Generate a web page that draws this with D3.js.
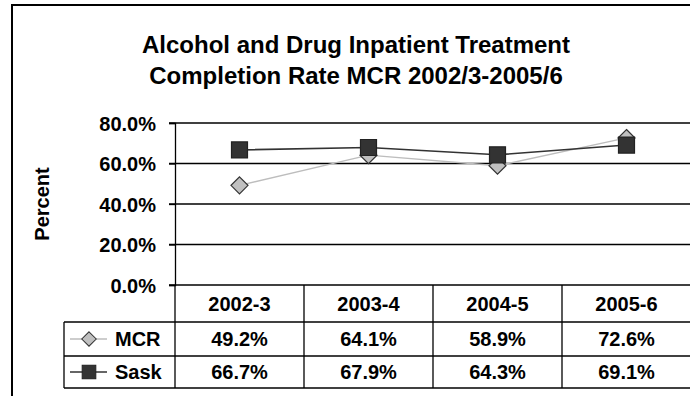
<!DOCTYPE html>
<html>
<head>
<meta charset="utf-8">
<script src="https://cdn.jsdelivr.net/npm/d3@7"></script>
<style>
  html, body { margin: 0; padding: 0; background: #fff; overflow: hidden; width: 690px; height: 396px; }
  svg { display: block; }
  svg text { font-family: "Liberation Sans", Arial, sans-serif; font-weight: bold; fill: #000; }
</style>
</head>
<body>
<svg id="chart" width="690" height="396"></svg>
<script>
// Fiscal years shown along the category axis / data table header
const categories = ["2002-3", "2003-4", "2004-5", "2005-6"];
// Completion rates (percent)
const mcrValues  = [49.2, 64.1, 58.9, 72.6];
const saskValues = [66.7, 67.9, 64.3, 69.1];
const seriesNames = ["MCR", "Sask"];
// Value axis ticks
const yTicks = [0, 20, 40, 60, 80];
const titleLines = ["Alcohol and Drug Inpatient Treatment", "Completion Rate MCR 2002/3-2005/6"];

const svg = d3.select("#chart");
const W = 690, H = 396;

svg.append("rect").attr("x", 0).attr("y", 0).attr("width", W).attr("height", H).attr("fill", "#fff");
// chart area frame: only the top and left edges fall inside the drawing
svg.append("path").attr("d", `M12,${H + 2}V5H${W + 2}`)
  .attr("fill", "none").attr("stroke", "#000").attr("stroke-width", 2);

// title
svg.append("g").selectAll("text").data(titleLines).join("text")
  .attr("x", 356).attr("y", (d, i) => 53 + i * 31)
  .attr("text-anchor", "middle").attr("font-size", 24)
  .text(d => d);

const plot = { left: 175, right: 692, top: 123, bottom: 285 };
const x = d3.scaleBand().domain(categories).range([plot.left, plot.left + 4 * 129]);
const y = d3.scaleLinear().domain([0, 80]).range([plot.bottom, plot.top]);

// gridlines + ticks
svg.append("g").selectAll("line").data(yTicks).join("line")
  .attr("x1", plot.left - 6).attr("x2", plot.right)
  .attr("y1", d => y(d)).attr("y2", d => y(d))
  .attr("stroke", "#000").attr("stroke-width", 1.3);

// value axis
const yAxis = d3.axisLeft(y).tickValues(yTicks).tickSize(6).tickPadding(13)
  .tickFormat(d => d3.format(".1f")(d) + "%");
const yg = svg.append("g").attr("transform", `translate(${plot.left},0)`).call(yAxis);
yg.select(".domain").attr("stroke", "#000").attr("stroke-width", 1.3);
yg.selectAll(".tick line").attr("stroke", "#000").attr("stroke-width", 1.3);
yg.selectAll(".tick text").attr("font-size", 20).attr("font-family", null).attr("dy", "0.35em");

// axis title
svg.append("text").attr("transform", "translate(49,204) rotate(-90)")
  .attr("text-anchor", "middle").attr("font-size", 20).text("Percent");

// data table
const rowTop = [plot.bottom, 322, 356, 388];
const tableLeft = 64;
const tg = svg.append("g").attr("stroke", "#000").attr("stroke-width", 1.3);
// horizontal rules
[1, 2, 3].forEach(r => {
  tg.append("line").attr("x1", tableLeft).attr("x2", plot.right).attr("y1", rowTop[r]).attr("y2", rowTop[r]);
});
// vertical rules
tg.append("line").attr("x1", tableLeft).attr("x2", tableLeft).attr("y1", rowTop[1]).attr("y2", rowTop[3]);
tg.selectAll(".vsep").data(categories).join("line").attr("class", "vsep")
  .attr("x1", d => x(d)).attr("x2", d => x(d))
  .attr("y1", plot.bottom).attr("y2", rowTop[3]);

// header
svg.append("g").selectAll("text").data(categories).join("text")
  .attr("x", d => x(d) + x.bandwidth() / 2).attr("y", (rowTop[0] + rowTop[1]) / 2)
  .attr("dy", "0.35em").attr("text-anchor", "middle").attr("font-size", 20).text(d => d);

const fmt = v => d3.format(".1f")(v) + "%";
const series = [
  { name: seriesNames[0], values: mcrValues, line: "#bdbdbd", lw: 1.3, marker: "diamond", fill: "#c0c0c0", stroke: "#333" },
  { name: seriesNames[1], values: saskValues, line: "#333", lw: 1.6, marker: "square", fill: "#333", stroke: "#222" }
];

function markerPath(kind) {
  if (kind === "diamond") { const r = 8.5; return `M0,${-r}L${r},0L0,${r}L${-r},0Z`; }
  const s = 8; return `M${-s},${-s}H${s}V${s}H${-s}Z`;
}

series.forEach((s, si) => {
  const cy = (rowTop[si + 1] + rowTop[si + 2]) / 2;
  // legend key
  svg.append("line").attr("x1", 70).attr("x2", 107).attr("y1", cy).attr("y2", cy)
    .attr("stroke", s.line).attr("stroke-width", s.lw);
  svg.append("path").attr("d", markerPath(s.marker)).attr("transform", `translate(89,${cy}) scale(0.85)`)
    .attr("fill", s.fill).attr("stroke", s.stroke).attr("stroke-width", 1.2);
  svg.append("text").attr("x", 115).attr("y", cy).attr("dy", "0.35em").attr("font-size", 20).text(s.name);
  // values
  svg.append("g").selectAll("text").data(s.values).join("text")
    .attr("x", (d, i) => x(categories[i]) + x.bandwidth() / 2).attr("y", cy)
    .attr("dy", "0.35em").attr("text-anchor", "middle").attr("font-size", 20).text(fmt);
});

// series lines and markers
series.forEach(s => {
  const pts = s.values.map((v, i) => [x(categories[i]) + x.bandwidth() / 2, y(v)]);
  svg.append("path").attr("d", d3.line()(pts)).attr("fill", "none")
    .attr("stroke", s.line).attr("stroke-width", s.lw);
  svg.append("g").selectAll("path").data(pts).join("path")
    .attr("d", markerPath(s.marker)).attr("transform", d => `translate(${d[0]},${d[1]})`)
    .attr("fill", s.fill).attr("stroke", s.stroke).attr("stroke-width", 1.2);
});
</script>
</body>
</html>
